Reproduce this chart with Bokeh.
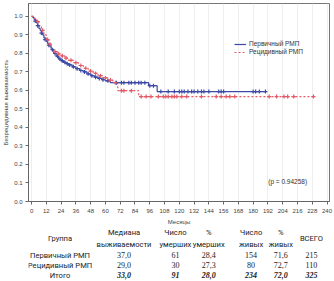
import numpy as np
from bokeh.plotting import figure
from bokeh.layouts import column
from bokeh.models import Range1d, Label, Legend, LegendItem, FixedTicker, CustomJSTickFormatter
from bokeh.core.properties import value
from bokeh.embed import file_html
from bokeh.resources import INLINE

# ---- Kaplan-Meier data ----
blue_name = "Первичный РМП"
blue_t = [0, 1, 2, 3, 4, 5, 6, 7, 8, 9, 10, 11, 12, 13, 14, 15, 16, 18, 20, 22, 24, 26, 28, 30,
          33, 36, 39, 42, 45, 48, 51, 54, 57, 60, 64, 95, 102, 190]
blue_s = [1.0, 0.995, 0.985, 0.975, 0.965, 0.95, 0.935, 0.925, 0.91, 0.90, 0.885, 0.875, 0.865,
          0.855, 0.845, 0.835, 0.82, 0.80, 0.785, 0.77, 0.76, 0.752, 0.745, 0.738, 0.728, 0.718,
          0.708, 0.70, 0.69, 0.68, 0.672, 0.665, 0.658, 0.652, 0.642, 0.626, 0.594, 0.594]
blue_cens = [3, 5, 8, 11, 14, 17, 19, 21, 23, 25, 27, 29, 31, 34, 37, 40, 43, 46, 49, 52, 55, 58,
             62, 69, 73, 75, 79, 81, 84, 87, 89, 92, 96, 99, 105, 111, 116, 120, 122, 124, 127,
             130, 132, 135, 138, 140, 144, 152, 154, 156, 180, 182, 185, 190]

red_name = "Рецидивный РМП"
red_t = [0, 2, 4, 6, 8, 10, 12, 14, 16, 18, 21, 24, 27, 30, 34, 38, 42, 46, 50, 54, 58, 62, 66,
         70, 87, 229]
red_s = [1.0, 0.99, 0.972, 0.95, 0.925, 0.9, 0.875, 0.85, 0.825, 0.81, 0.798, 0.787, 0.775,
         0.763, 0.75, 0.735, 0.72, 0.705, 0.692, 0.68, 0.668, 0.656, 0.642, 0.599, 0.567, 0.567]
red_cens = [5, 9, 13, 15, 19, 22, 25, 28, 32, 36, 40, 44, 48, 52, 56, 60, 64, 68, 73, 75, 81, 89,
            93, 97, 103, 107, 109, 111, 114, 116, 118, 122, 126, 138, 150, 154, 158, 161, 165,
            193, 199, 205, 208, 213, 229]

x_ticks = list(range(0, 241, 12))
y_ticks = [0.0, 0.1, 0.2, 0.3, 0.4, 0.5, 0.6, 0.7, 0.8, 0.9, 1.0]
p_text = "(p = 0.94258)"

# ---- table data ----
tbl_headers = [["Группа"], ["Медиана", "выживаемости"], ["Число", "умерших"], ["%", "умерших"],
               ["Число", "живых"], ["%", "живых"], ["ВСЕГО"]]
tbl_groups = ["Первичный РМП", "Рецидивный РМП", "Итого"]
tbl_median = ["37,0", "29,0", "33,0"]
tbl_dead = ["61", "30", "91"]
tbl_dead_pct = ["28,4", "27,3", "28,0"]
tbl_alive = ["154", "80", "234"]
tbl_alive_pct = ["71,6", "72,7", "72,0"]
tbl_total = ["215", "110", "325"]

BLUE = "#3b4aa6"
RED = "#e25a66"
FONT = "Liberation Sans"
TFONT = "Roboto"
TSIZE = "7.6px"
NSIZE = "8px"


def step_at(ts, ss, t):
    idx = np.searchsorted(np.array(ts), np.array(t), side="right") - 1
    return list(np.array(ss)[idx])


p = figure(width=334, height=227, x_range=Range1d(-2.5, 242), y_range=Range1d(0, 1.07),
           output_backend="svg", toolbar_location=None,
           min_border_left=27, min_border_right=5, min_border_top=3, min_border_bottom=24)
p.outline_line_color = "#777777"
p.outline_line_width = 1
p.background_fill_color = "white"
p.border_fill_color = "white"

p.xgrid.grid_line_color = "#eeeeee"
p.ygrid.grid_line_color = None
p.xaxis.ticker = FixedTicker(ticks=x_ticks)
p.yaxis.ticker = FixedTicker(ticks=y_ticks)
p.yaxis.formatter = CustomJSTickFormatter(code="return tick.toFixed(1);")

for ax in (p.xaxis[0], p.yaxis[0]):
    ax.major_label_text_font = FONT
    ax.major_label_text_font_size = "6px"
    ax.major_label_text_color = "#444444"
    ax.major_label_standoff = 3
    ax.major_tick_out = 3
    ax.major_tick_in = 0
    ax.minor_tick_out = 0
    ax.minor_tick_in = 0
    ax.axis_line_color = "#666666"
    ax.major_tick_line_color = "#666666"
    ax.axis_label_text_font = FONT
    ax.axis_label_text_font_size = "6px"
    ax.axis_label_text_font_style = "normal"
    ax.axis_label_text_color = "#444444"
    ax.axis_label_standoff = 2
p.xaxis.major_label_standoff = 4
p.xaxis.axis_label_standoff = 3

p.xaxis.axis_label = "Месяцы"
p.yaxis.axis_label = "Безрецидивная выживаемость"

lb = p.step(blue_t, blue_s, mode="after", line_color=BLUE, line_width=1.2)
lr = p.step(red_t, red_s, mode="after", line_color=RED, line_width=1.2, line_dash="2 2")

p.scatter(blue_cens, step_at(blue_t, blue_s, blue_cens), marker="cross", size=4,
          line_color=BLUE, line_width=1.2)
p.scatter(red_cens, step_at(red_t, red_s, red_cens), marker="cross", size=4,
          line_color=RED, line_width=1.2)

legend = Legend(items=[LegendItem(label=blue_name, renderers=[lb]),
                       LegendItem(label=red_name, renderers=[lr])],
                location=(206, 146))
legend.label_text_font = FONT
legend.label_text_font_size = "6.5px"
legend.label_text_color = "#333333"
legend.glyph_width = 12
legend.glyph_height = 6
legend.label_height = 6
legend.label_standoff = 3
legend.spacing = 1
legend.padding = 0
legend.margin = 0
legend.border_line_alpha = 0
legend.background_fill_alpha = 0
p.add_layout(legend)

p.add_layout(Label(x=208, y=0.11, text=p_text, text_font=FONT, text_font_size="6.5px",
                   text_color="#333333", text_align="center", text_baseline="middle"))

# ---- table figure ----
TH = 54
t = figure(width=334, height=TH, x_range=Range1d(0, 334), y_range=Range1d(TH, 0),
           output_backend="svg", toolbar_location=None,
           min_border_left=0, min_border_right=0, min_border_top=0, min_border_bottom=0)
t.axis.visible = False
t.grid.visible = False
t.outline_line_color = None

col_x = [35, 106, 163, 200, 247, 280, 314]
hx, hy, htxt = [], [], []
for cx, hdr in zip(col_x, tbl_headers):
    if len(hdr) == 1:
        hx.append(cx); hy.append(10.5); htxt.append(hdr[0])
    else:
        hx += [cx, cx]; hy += [5, 16.5]; htxt += hdr
t.text(x=hx, y=hy, text=htxt, text_font=value(TFONT), text_font_size=TSIZE,
       text_color="#222222", text_align="center", text_baseline="middle")

row_y = [27.5, 37.5, 47.5]
t.text(x=[col_x[0]] * 3, y=row_y, text=tbl_groups, text_font=value(TFONT),
       text_font_size=TSIZE, text_color="#222222", text_align="center", text_baseline="middle")

num_cols = [tbl_median, tbl_dead, tbl_dead_pct, tbl_alive, tbl_alive_pct, tbl_total]
for cx, vals in zip(col_x[1:], num_cols):
    t.text(x=[cx, cx], y=row_y[:2], text=vals[:2], text_font=value("Liberation Serif"),
           text_font_size=NSIZE, text_color="#222222", text_align="center",
           text_baseline="middle")
    t.text(x=[cx], y=row_y[2:], text=vals[2:], text_font=value("Liberation Serif"),
           text_font_size=NSIZE, text_font_style="bold italic", text_color="#222222",
           text_align="center", text_baseline="middle")

layout = column(p, t, spacing=0)
open("out.html", "w").write(file_html(layout, INLINE))
